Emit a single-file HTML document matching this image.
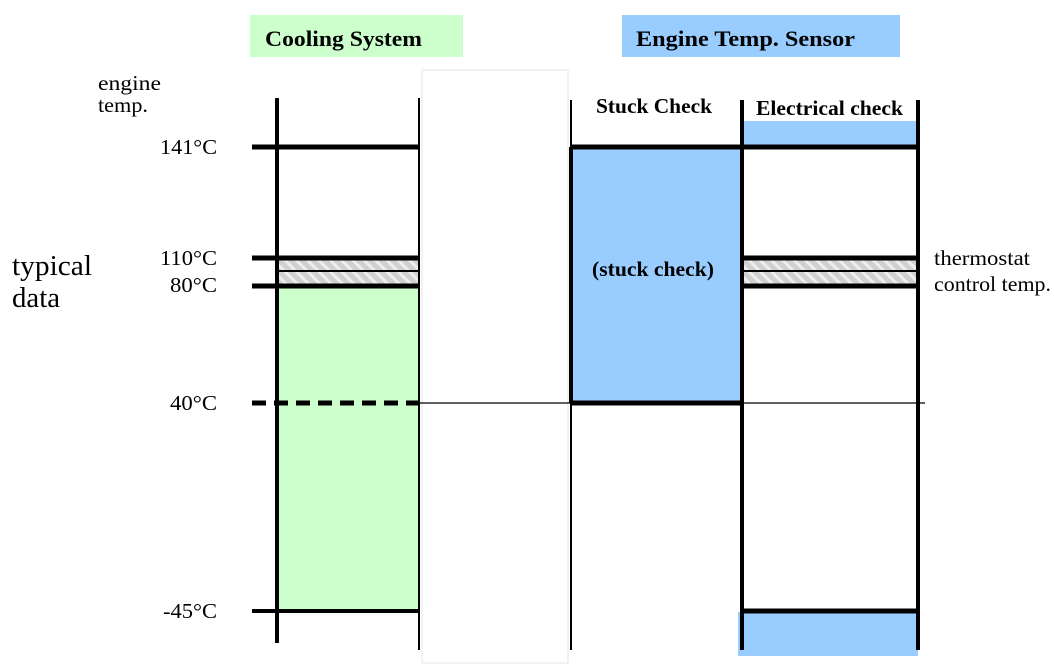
<!DOCTYPE html><html><head><style>body{margin:0;background:#fff}svg{display:block}</style></head><body>
<svg width="1054" height="672" xmlns="http://www.w3.org/2000/svg" font-family="Liberation Serif, serif">
<defs><pattern id="h" width="8" height="8" patternUnits="userSpaceOnUse" patternTransform="rotate(-45)"><rect width="8" height="8" fill="#d0d0d0"/><rect width="3" height="8" fill="#eeeeee"/></pattern></defs>
<rect x="250" y="15" width="213" height="42" fill="#ccffcc"/>
<text x="265" y="46" font-size="22" font-weight="bold" textLength="157" lengthAdjust="spacingAndGlyphs">Cooling System</text>
<rect x="622" y="15" width="278" height="42" fill="#99ccff"/>
<text x="636" y="46" font-size="22" font-weight="bold" textLength="219" lengthAdjust="spacingAndGlyphs">Engine Temp. Sensor</text>
<rect x="422" y="70" width="146" height="593" fill="#fff" stroke="#eee" stroke-width="1.5"/>
<text x="98" y="90" font-size="21" textLength="63" lengthAdjust="spacingAndGlyphs">engine</text><text x="98" y="112" font-size="21" textLength="50" lengthAdjust="spacingAndGlyphs">temp.</text>
<text x="12" y="275" font-size="29" textLength="80" lengthAdjust="spacingAndGlyphs">typical</text><text x="12" y="307" font-size="29" textLength="48" lengthAdjust="spacingAndGlyphs">data</text>
<text x="596" y="113" font-size="21" font-weight="bold" textLength="116" lengthAdjust="spacingAndGlyphs">Stuck Check</text>
<text x="756" y="115" font-size="21" font-weight="bold" textLength="147" lengthAdjust="spacingAndGlyphs">Electrical check</text>
<text x="160" y="154" font-size="21" textLength="57" lengthAdjust="spacingAndGlyphs">141°C</text>
<text x="160" y="265" font-size="21" textLength="57" lengthAdjust="spacingAndGlyphs">110°C</text>
<text x="170" y="292" font-size="21" textLength="47" lengthAdjust="spacingAndGlyphs">80°C</text>
<text x="170" y="410" font-size="21" textLength="47" lengthAdjust="spacingAndGlyphs">40°C</text>
<text x="163" y="618" font-size="21" textLength="54" lengthAdjust="spacingAndGlyphs">-45°C</text>
<text x="934" y="265" font-size="21" textLength="96" lengthAdjust="spacingAndGlyphs">thermostat</text>
<text x="934" y="291" font-size="21" textLength="117" lengthAdjust="spacingAndGlyphs">control temp.</text>
<rect x="279" y="287" width="139" height="324" fill="#ccffcc"/>
<rect x="571" y="147" width="171" height="256" fill="#99ccff"/>
<rect x="744" y="121" width="174" height="26" fill="#99ccff"/>
<rect x="738" y="612" width="180" height="44" fill="#99ccff"/>
<rect x="279" y="260" width="139" height="24" fill="url(#h)"/>
<rect x="744" y="260" width="174" height="24" fill="url(#h)"/>
<g stroke="#000">
<line x1="277" y1="98" x2="277" y2="643" stroke-width="4"/>
<line x1="419" y1="98" x2="419" y2="650" stroke-width="2"/>
<line x1="571" y1="100" x2="571" y2="650" stroke-width="2"/>
<line x1="571" y1="147" x2="571" y2="403" stroke-width="4"/>
<line x1="742" y1="100" x2="742" y2="650" stroke-width="4"/>
<line x1="918" y1="100" x2="918" y2="650" stroke-width="4"/>
<line x1="252" y1="147" x2="419" y2="147" stroke-width="5"/>
<line x1="571" y1="147" x2="920" y2="147" stroke-width="5"/>
<line x1="252" y1="258" x2="419" y2="258" stroke-width="5"/>
<line x1="742" y1="258" x2="920" y2="258" stroke-width="5"/>
<line x1="279" y1="271" x2="419" y2="271" stroke-width="2"/>
<line x1="742" y1="271" x2="920" y2="271" stroke-width="2"/>
<line x1="252" y1="286" x2="419" y2="286" stroke-width="5"/>
<line x1="742" y1="286" x2="920" y2="286" stroke-width="5"/>
<line x1="252" y1="403" x2="419" y2="403" stroke-width="5" stroke-dasharray="14,8"/>
<line x1="419" y1="403" x2="925" y2="403" stroke-width="1.2"/>
<line x1="571" y1="403" x2="742" y2="403" stroke-width="5"/>
<line x1="252" y1="611" x2="419" y2="611" stroke-width="4"/>
<line x1="742" y1="611" x2="920" y2="611" stroke-width="5"/>
</g>
<text x="592" y="276" font-size="21" font-weight="bold" textLength="122" lengthAdjust="spacingAndGlyphs">(stuck check)</text>
</svg></body></html>
